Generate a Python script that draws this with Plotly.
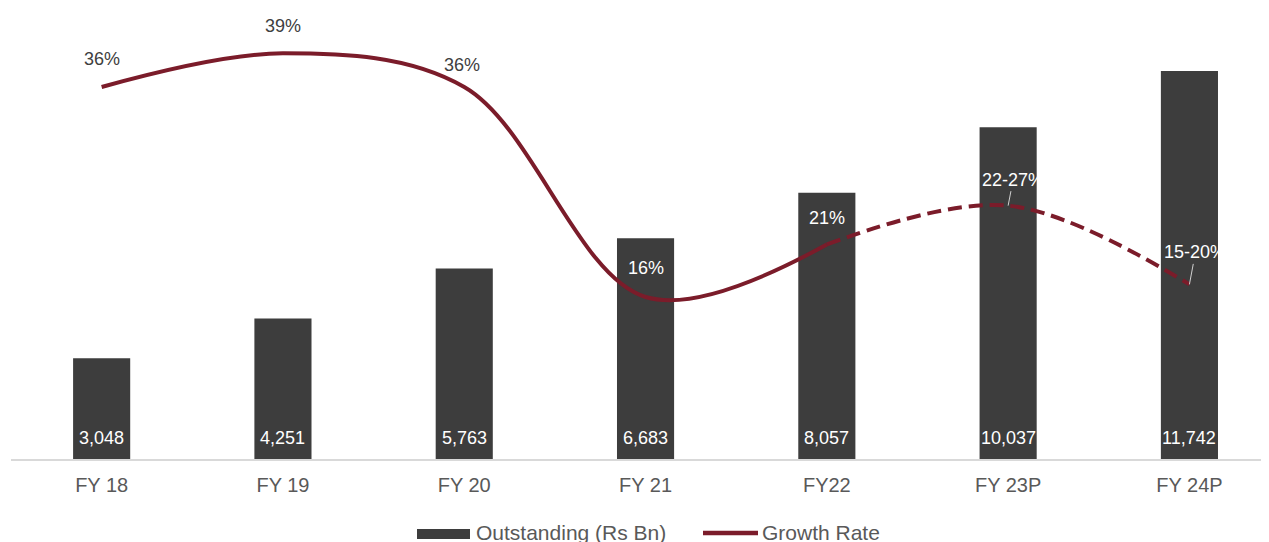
import plotly.graph_objects as go

years = ["FY 18", "FY 19", "FY 20", "FY 21", "FY22", "FY 23P", "FY 24P"]
outstanding = [3048, 4251, 5763, 6683, 8057, 10037, 11742]
growth = [36, 39.2, 36, 16, 21, 24.7, 17.2]
growth_labels = ["36%", "39%", "36%", "16%", "21%", "22-27%", "15-20%"]

BAR_COLOR = "#3d3d3d"
LINE_COLOR = "#7b1c2a"
TEXT_COLOR = "#595959"
FONT = "Liberation Sans, Arial, sans-serif"

W, H = 1269, 542
ML, MR, MT, MB = 3, 0, 2, 91
PW, PH = W - ML - MR, H - MT - MB


def px(x):
    # page pixel (page has 8px body margin) -> paper x
    return (x - 8 - ML) / PW


def py(y):
    return (H - MB - (y - 8)) / PH


fig = go.Figure()

fig.add_trace(go.Bar(
    x=years,
    y=outstanding,
    name="Outstanding (Rs Bn)",
    marker=dict(color=BAR_COLOR, line=dict(width=0)),
    width=0.315,
    showlegend=False,
))

# actuals: solid line
fig.add_trace(go.Scatter(
    x=years[:5],
    y=growth[:5],
    name="Growth Rate",
    mode="lines",
    line=dict(color=LINE_COLOR, width=4, shape="spline", smoothing=1.0),
    yaxis="y2",
    showlegend=False,
))

# projections: dashed line
fig.add_trace(go.Scatter(
    x=years[4:],
    y=growth[4:],
    name="Growth Rate (P)",
    mode="lines",
    line=dict(color=LINE_COLOR, width=4, shape="spline", smoothing=1.0, dash="14px,7px"),
    yaxis="y2",
    showlegend=False,
))

# bar value labels at base
for yr, v in zip(years, outstanding):
    fig.add_annotation(
        x=yr, y=0, xref="x", yref="y", text=f"{v:,}", showarrow=False,
        yanchor="middle", yshift=21,
        font=dict(size=18, color="white", family=FONT),
    )

# growth labels
label_colors = ["#404040"] * 3 + ["white"] * 4
shifts = [28, 27, 22, 29, 26]
for i in range(5):
    fig.add_annotation(
        x=years[i], y=growth[i], xref="x", yref="y2",
        text=growth_labels[i], showarrow=False, yshift=shifts[i],
        xshift=-2 if i == 2 else 0,
        font=dict(size=18, color=label_colors[i], family=FONT),
    )

for i, (ax, ay) in zip([5, 6], [(5, -26), (6, -32)]):
    fig.add_annotation(
        x=years[i], y=growth[i], xref="x", yref="y2",
        text=growth_labels[i], showarrow=True, arrowhead=0,
        arrowwidth=1, arrowcolor="#d0d0d0", ax=ax, ay=ay,
        standoff=0,
        font=dict(size=18, color="white", family=FONT),
    )

# legend drawn by hand (wide bar swatch)
fig.add_shape(type="rect", xref="paper", yref="paper",
              x0=px(417), x1=px(470), y0=py(539), y1=py(529),
              fillcolor=BAR_COLOR, line=dict(width=0))
fig.add_annotation(xref="paper", yref="paper", x=px(474), y=py(532),
                   xanchor="left", yanchor="middle", showarrow=False,
                   text="Outstanding (Rs Bn)",
                   font=dict(size=21, color=TEXT_COLOR, family=FONT))
fig.add_shape(type="line", xref="paper", yref="paper",
              x0=px(703), x1=px(758), y0=py(533), y1=py(533),
              line=dict(color=LINE_COLOR, width=4.5))
fig.add_annotation(xref="paper", yref="paper", x=px(760), y=py(532),
                   xanchor="left", yanchor="middle", showarrow=False,
                   text="Growth Rate",
                   font=dict(size=21, color=TEXT_COLOR, family=FONT))

fig.update_layout(
    width=W,
    height=H,
    margin=dict(l=ML, r=MR, t=MT, b=MB, autoexpand=False),
    paper_bgcolor="white",
    plot_bgcolor="white",
    font=dict(family=FONT, color=TEXT_COLOR, size=20),
    showlegend=False,
    xaxis=dict(
        range=[-0.5, 6.483],
        showline=True,
        linecolor="#d9d9d9",
        linewidth=2,
        ticks="",
        showgrid=False,
        ticklabelstandoff=7,
        tickfont=dict(size=20, color=TEXT_COLOR),
    ),
    yaxis=dict(
        range=[0, 13588],
        visible=False,
        showgrid=False,
    ),
    yaxis2=dict(
        range=[0.571, 43.33],
        overlaying="y",
        side="right",
        visible=False,
        showgrid=False,
    ),
)

fig.write_html("out.html")
